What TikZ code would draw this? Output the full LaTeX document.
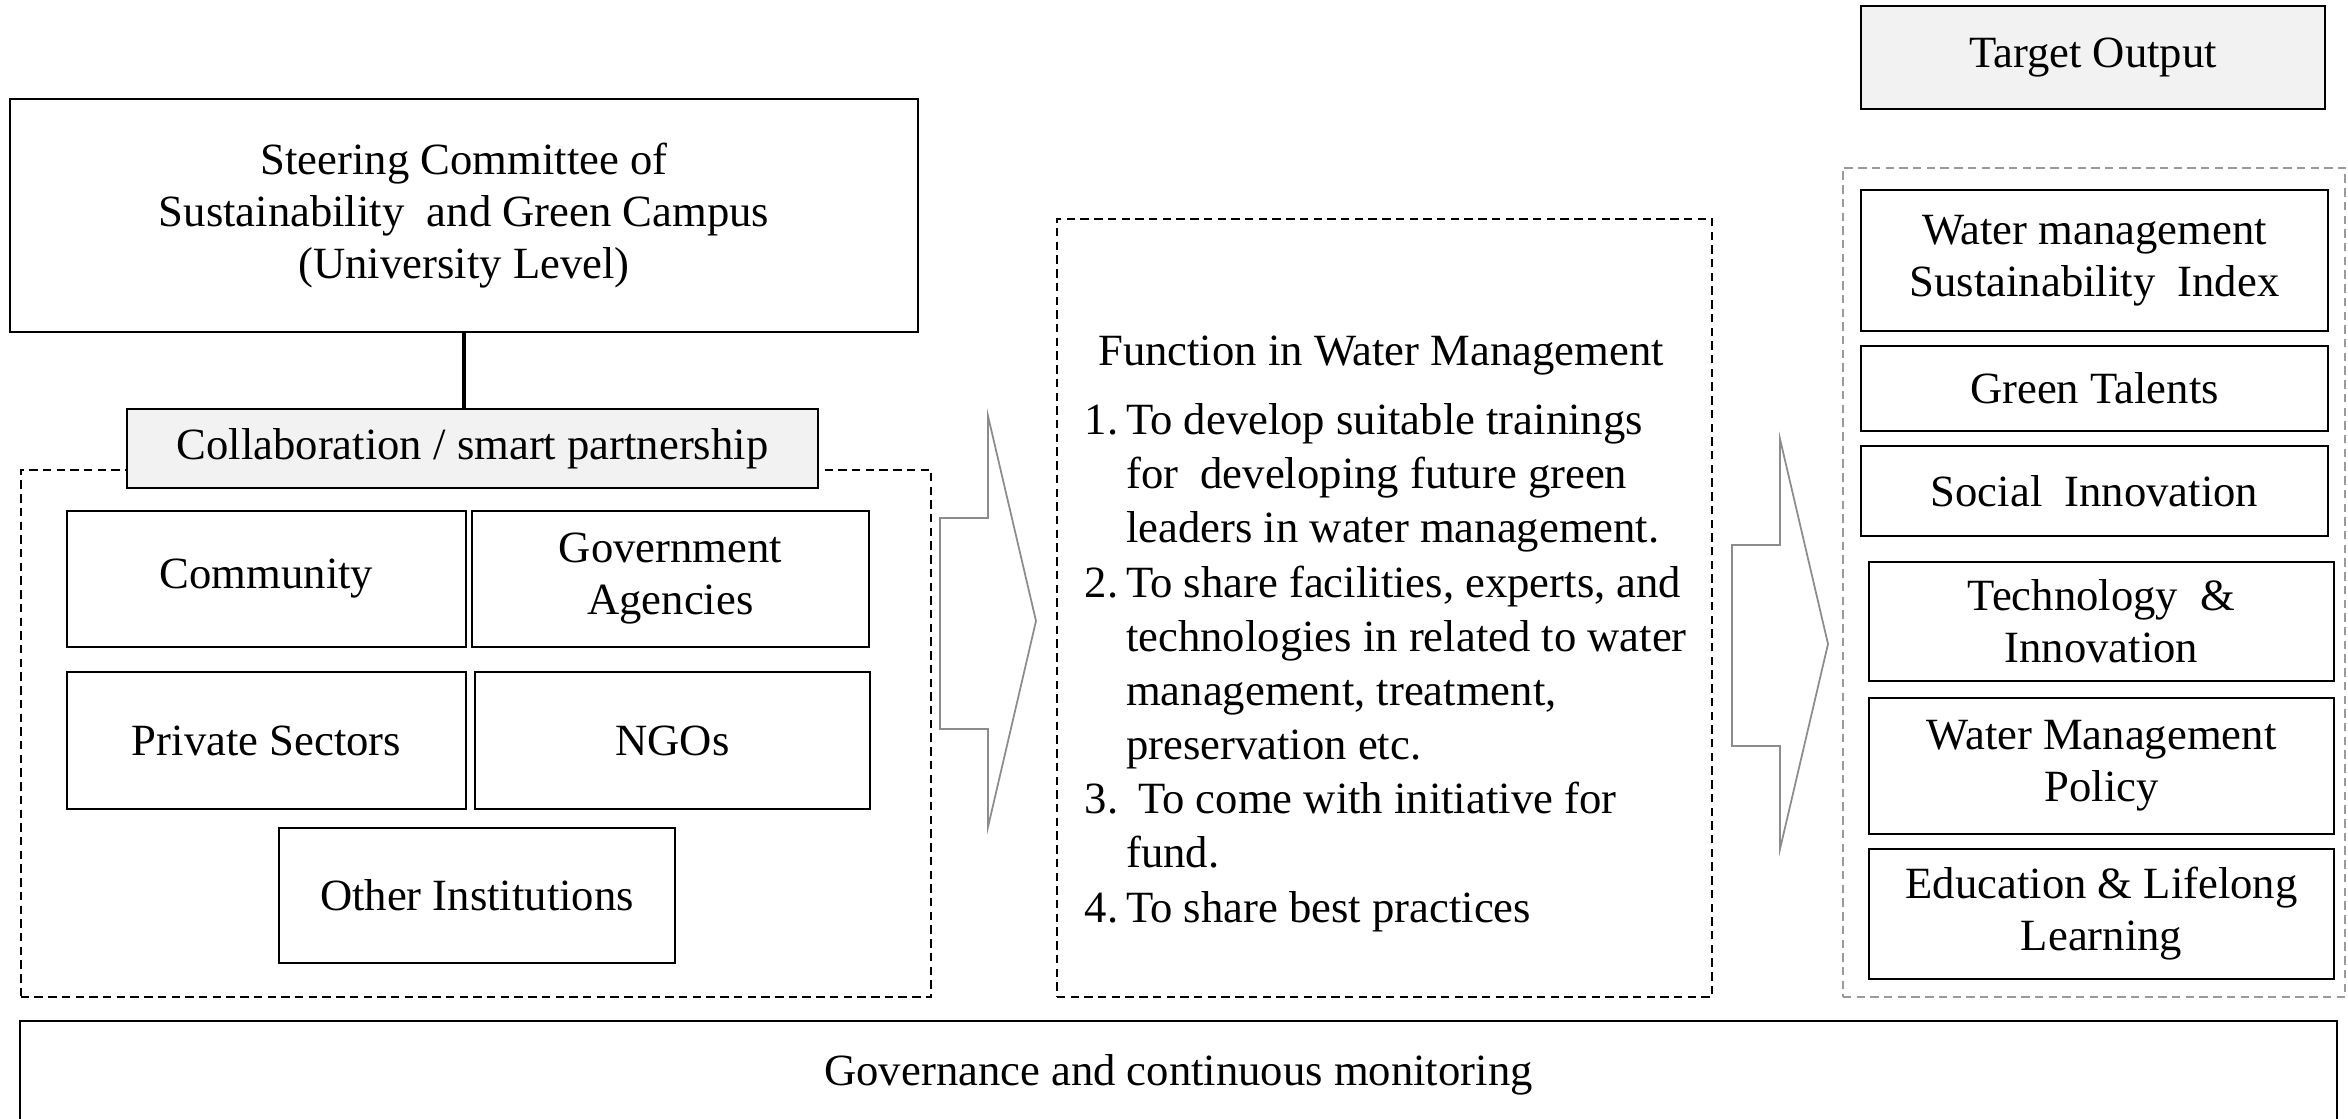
\documentclass[tikz,border=0pt]{standalone}
\usepackage{fontspec}
\setmainfont{Liberation Serif}
\usetikzlibrary{positioning}
\definecolor{headgray}{HTML}{F2F2F2}
\definecolor{arrowgray}{HTML}{8C8C8C}
\definecolor{framegray}{HTML}{9A9A9A}

\begin{document}
\begin{tikzpicture}[x=0.01cm, y=-0.01cm,
    font=\fontsize{12.7}{14.8}\selectfont,
    member/.style ={rectangle, draw, line width=0.6pt, inner sep=0pt, align=center},
    header/.style ={member, fill=headgray},
    grouping/.style ={rectangle, draw, dash pattern=on 2.4pt off 1.5pt, line width=0.5pt, inner sep=0pt},
    blockarrow/.style ={draw=arrowgray, line width=0.5pt}]
   \path[use as bounding box, clip] (0,0) rectangle (2348,1119);
   % university level
   \node[member, minimum width=9.08cm, minimum height=2.33cm] (steer) at (464,215.5) {Steering Committee of\\Sustainability\ \ and Green Campus\\(University Level)};
   \node[grouping, minimum width=9.10cm, minimum height=5.27cm] (partners) at (476,733.5) {};
   \node[header, minimum width=6.91cm, minimum height=0.79cm] (collab) at (472.5,448.5) {Collaboration / smart partnership};
   \draw[line width=1.2pt] (steer.south) -- (steer.south |- collab.north);
   \node[member, minimum width=3.99cm, minimum height=1.36cm] (community) at (266.5,579) {Community};
   \node[member, minimum width=3.97cm, minimum height=1.36cm] (govt) at (670.5,579) {Government\\Agencies};
   \node[member, minimum width=3.99cm, minimum height=1.37cm] (private) at (266.5,740.5) {Private Sectors};
   \node[member, minimum width=3.95cm, minimum height=1.37cm] (ngo) at (672.5,740.5) {NGOs};
   \node[member, minimum width=3.96cm, minimum height=1.35cm] (other) at (477,895.5) {Other Institutions};
   % big arrows
   \draw[blockarrow] (940,518) -- (988,518) -- (988,416) -- (1036,621) -- (988,827) -- (988,729) -- (940,729) -- cycle;
   \draw[blockarrow] (1732,545) -- (1780,545) -- (1780,439) -- (1828,644) -- (1780,849) -- (1780,746) -- (1732,746) -- cycle;
   % functions
   \node[grouping, minimum width=6.55cm, minimum height=7.78cm] (func) at (1384.5,608) {};
   \node (functitle) at (1381,356) {Function in Water Management};
   \node[anchor=north west, inner sep=0pt, font=\fontsize{12.7}{15.4}\selectfont] (funclist) at (1084,396) {%
     \begin{tabular}{@{}l@{\hspace{0.08cm}}l@{}}
     1. & To develop suitable trainings\\
        & for\ \ developing future green\\
        & leaders in water management.\\
     2. & To share facilities, experts, and\\
        & technologies in related to water\\
        & management, treatment,\\
        & preservation etc.\\
     3. & \hspace{0.12cm}To come with initiative for\\
        & fund.\\
     4. & To share best practices
     \end{tabular}};
   % target output
   \node[header, minimum width=4.64cm, minimum height=1.03cm] (target) at (2093,57.5) {Target Output};
   \node[grouping, draw=framegray, minimum width=5.02cm, minimum height=8.29cm] (outputs) at (2094,582.5) {};
   \node[member, minimum width=4.67cm, minimum height=1.41cm] (index) at (2094.5,260.5) {Water management\\Sustainability\ \ Index};
   \node[member, minimum width=4.67cm, minimum height=0.85cm] (talents) at (2094.5,388.5) {Green Talents};
   \node[member, minimum width=4.67cm, minimum height=0.90cm] (social) at (2094.5,491) {Social\ \ Innovation};
   \node[member, minimum width=4.65cm, minimum height=1.19cm] (techno) at (2101.5,621.5) {Technology\ \ \&\\Innovation};
   \node[member, minimum width=4.65cm, minimum height=1.36cm] (policy) at (2101.5,766) {Water Management\\Policy};
   \node[member, minimum width=4.65cm, minimum height=1.30cm] (lifelong) at (2101.5,914) {Education \& Lifelong\\Learning};
   % governance
   \node[member, minimum width=23.15cm, minimum height=1.08cm] (governance) at (1178.5,1075) {Governance and continuous monitoring};
 \end{tikzpicture}
\end{document}
